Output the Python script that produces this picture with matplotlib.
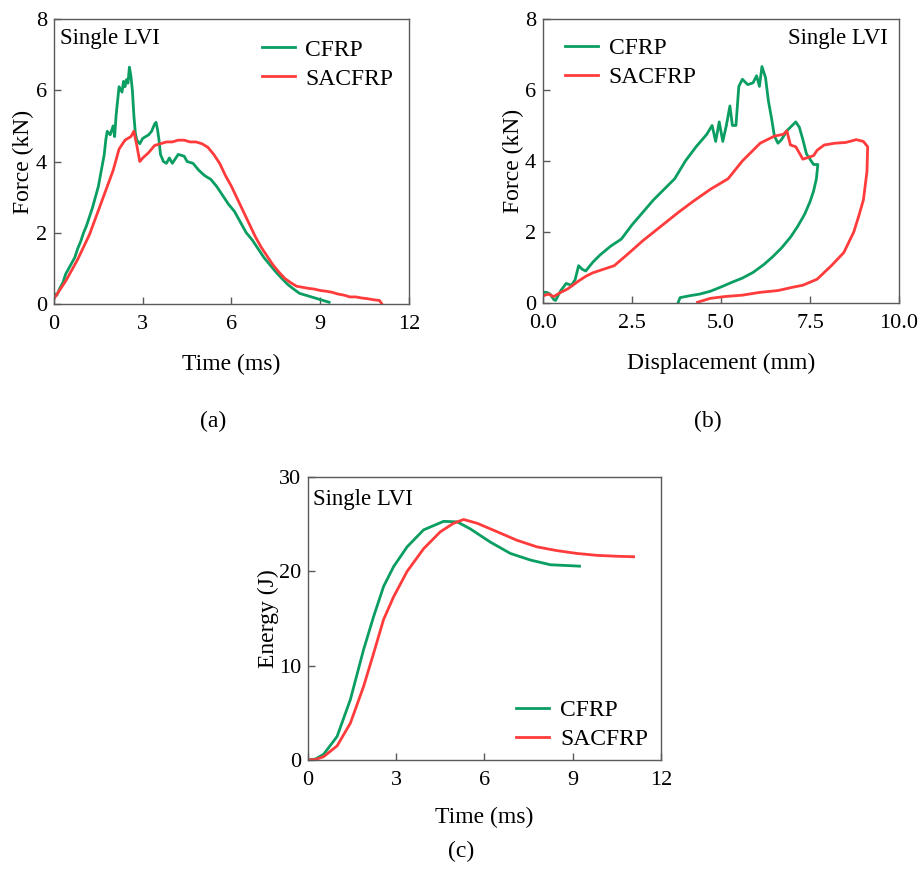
import numpy as np
import matplotlib
matplotlib.use("Agg")
import matplotlib.pyplot as plt

plt.rcParams['font.family'] = ['Liberation Serif', 'DejaVu Serif']

GREEN = '#0a9e62'
RED = '#ff3b3b'

# (a) force vs time
t_cfrp = [0, 0.1, 0.2, 0.3, 0.4, 0.5, 0.6, 0.7, 0.8, 0.9, 1.0, 1.1, 1.2, 1.3, 1.4, 1.5, 1.6, 1.7,
          1.75, 1.8, 1.9, 2.0, 2.05, 2.1, 2.15, 2.2, 2.3, 2.35, 2.4, 2.45, 2.5, 2.55, 2.6, 2.65, 2.7,
          2.75, 2.8, 2.9, 3.0, 3.1, 3.2, 3.3, 3.4, 3.45, 3.5, 3.55, 3.6, 3.7, 3.8, 3.9, 4.0, 4.2, 4.4,
          4.5, 4.7, 4.9, 5.1, 5.3, 5.5, 5.7, 5.9, 6.1, 6.3, 6.5, 6.7, 6.9, 7.1, 7.3, 7.5, 7.7, 7.9,
          8.1, 8.3, 8.5, 8.7, 8.9, 9.1, 9.3]
f_cfrp = [0.3, 0.25, 0.45, 0.6, 0.85, 1.0, 1.15, 1.3, 1.55, 1.75, 2.0, 2.2, 2.45, 2.7, 3.0, 3.3, 3.75, 4.2,
          4.6, 4.85, 4.75, 5.0, 4.7, 5.3, 5.7, 6.1, 5.95, 6.25, 6.1, 6.3, 6.2, 6.65, 6.4, 6.0, 5.3,
          4.8, 4.6, 4.5, 4.65, 4.7, 4.75, 4.85, 5.05, 5.1, 4.9, 4.6, 4.2, 4.0, 3.95, 4.1, 3.95, 4.2, 4.15,
          4.0, 3.95, 3.75, 3.6, 3.5, 3.3, 3.05, 2.8, 2.6, 2.3, 2.0, 1.8, 1.55, 1.3, 1.1, 0.9, 0.72, 0.55,
          0.42, 0.3, 0.25, 0.2, 0.15, 0.1, 0.05]
t_sac = [0, 0.2, 0.4, 0.6, 0.8, 1.0, 1.2, 1.4, 1.6, 1.8, 2.0, 2.2, 2.4, 2.6, 2.7, 2.8, 2.9, 3.0,
         3.2, 3.4, 3.6, 3.8, 4.0, 4.2, 4.4, 4.6, 4.8, 5.0, 5.2, 5.4, 5.6, 5.8, 6.0, 6.2, 6.4, 6.6,
         6.8, 7.0, 7.2, 7.4, 7.6, 7.8, 8.0, 8.2, 8.4, 8.6, 8.8, 9.0, 9.2, 9.4, 9.6, 9.8, 10.0, 10.2,
         10.4, 10.6, 10.8, 11.0, 11.07]
f_sac = [0.15, 0.4, 0.65, 0.95, 1.25, 1.6, 1.95, 2.4, 2.85, 3.3, 3.75, 4.35, 4.6, 4.7, 4.85, 4.45, 4.0, 4.1,
         4.25, 4.45, 4.5, 4.55, 4.55, 4.6, 4.6, 4.55, 4.55, 4.5, 4.4, 4.2, 3.95, 3.6, 3.3, 2.95, 2.6, 2.25,
         1.9, 1.6, 1.35, 1.1, 0.9, 0.72, 0.6, 0.5, 0.47, 0.44, 0.42, 0.38, 0.36, 0.33, 0.28, 0.25, 0.2, 0.2,
         0.17, 0.15, 0.12, 0.1, 0.02]

# (b) force vs displacement
d_cfrp = [0, 0.1, 0.2, 0.3, 0.35, 0.5, 0.65, 0.8, 0.9, 1.0, 1.1, 1.2, 1.4, 1.6, 1.9, 2.2, 2.5, 2.8, 3.1,
          3.4, 3.7, 4.0, 4.3, 4.6, 4.75, 4.85, 4.95, 5.05, 5.15, 5.25, 5.32, 5.42, 5.5, 5.6, 5.75, 5.9,
          6.0, 6.08, 6.15, 6.25, 6.33, 6.42, 6.5, 6.6, 6.7, 6.85, 7.0, 7.1, 7.2, 7.3, 7.4, 7.5, 7.6, 7.72,
          7.68, 7.6, 7.5, 7.35, 7.15, 6.95, 6.7, 6.45, 6.2, 5.9, 5.6, 5.3, 5.0, 4.7, 4.4, 4.1, 3.85, 3.8]
fd_cfrp = [0.3, 0.3, 0.25, 0.1, 0.07, 0.35, 0.55, 0.5, 0.65, 1.05, 0.95, 0.9, 1.15, 1.35, 1.6, 1.8, 2.2, 2.55, 2.9,
           3.2, 3.5, 4.0, 4.4, 4.75, 5.0, 4.55, 5.1, 4.55, 5.0, 5.55, 5.0, 5.0, 6.1, 6.3, 6.15, 6.2,
           6.4, 6.1, 6.66, 6.35, 5.7, 5.2, 4.7, 4.5, 4.6, 4.85, 5.0, 5.1, 4.95, 4.6, 4.2, 4.05, 3.9, 3.9,
           3.5, 3.15, 2.85, 2.5, 2.15, 1.85, 1.55, 1.3, 1.08, 0.86, 0.7, 0.58, 0.45, 0.33, 0.25, 0.2, 0.15, 0.02]
d_sac = [0, 0.15, 0.3, 0.5, 0.7, 1.0, 1.2, 1.4, 1.7, 2.0, 2.35, 2.8, 3.3, 3.8, 4.2, 4.7, 5.2, 5.6, 5.9,
         6.1, 6.5, 6.75, 6.85, 6.95, 7.1, 7.3, 7.45, 7.6, 7.7, 7.9, 8.2, 8.5, 8.8, 9.0, 9.12, 9.1, 9.0,
         8.87, 8.73, 8.45, 8.1, 7.7, 7.3, 7.0, 6.6, 6.1, 5.6, 5.1, 4.7, 4.34]
fd_sac = [0.2, 0.25, 0.18, 0.3, 0.4, 0.62, 0.75, 0.85, 0.95, 1.05, 1.35, 1.75, 2.15, 2.55, 2.85, 3.2, 3.5, 4.0, 4.3,
          4.5, 4.7, 4.75, 4.85, 4.45, 4.4, 4.05, 4.1, 4.15, 4.3, 4.45, 4.5, 4.52, 4.6, 4.55, 4.4, 3.7, 2.9,
          2.45, 2.0, 1.42, 1.05, 0.67, 0.5, 0.44, 0.35, 0.3, 0.22, 0.18, 0.13, 0.02]

# (c) energy vs time
te_cfrp = [0, 0.25, 0.53, 0.99, 1.44, 1.89, 2.23, 2.57, 2.91, 3.37, 3.93, 4.61, 5.07, 5.52, 6.2, 6.88,
           7.56, 8.24, 8.92, 9.23]
e_cfrp = [0, 0.1, 0.6, 2.5, 6.4, 11.7, 15.2, 18.4, 20.5, 22.6, 24.4, 25.3, 25.25, 24.5, 23.1, 21.9,
          21.2, 20.7, 20.6, 20.55]
te_sac = [0, 0.25, 0.53, 0.99, 1.44, 1.89, 2.23, 2.57, 2.91, 3.37, 3.93, 4.5, 4.95, 5.29, 5.75, 6.43,
          7.1, 7.78, 8.46, 9.14, 9.82, 10.5, 11.07]
e_sac = [0, 0.05, 0.35, 1.5, 3.9, 7.8, 11.3, 14.9, 17.3, 20.0, 22.4, 24.2, 25.1, 25.5, 25.1, 24.2,
         23.3, 22.6, 22.2, 21.9, 21.7, 21.6, 21.55]

labels = ['CFRP', 'SACFRP']

fig = plt.figure(figsize=(9.21, 8.89), dpi=100)
ax_a = fig.add_axes([0.0586, 0.658, 0.3855, 0.3206])
ax_b = fig.add_axes([0.5896, 0.6592, 0.3865, 0.3195])
ax_c = fig.add_axes([0.3344, 0.1451, 0.3833, 0.3183])

leg_kw = dict(loc='upper left', frameon=False, fontsize=17, handlelength=1.4,
              handletextpad=0.45, labelspacing=0.32, borderpad=0, borderaxespad=0)


def style(ax):
    for s in ax.spines.values():
        s.set_color('#5a5a5a')
        s.set_linewidth(1.0)
    ax.tick_params(direction='in', length=5, width=1, color='#5a5a5a',
                   labelsize=16, top=False, right=False)
    ax.tick_params(axis='x', pad=8)
    ax.tick_params(axis='y', pad=5)


ax_a.plot(t_cfrp, f_cfrp, color=GREEN, lw=2.0, label=labels[0])
ax_a.plot(t_sac, f_sac, color=RED, lw=2.0, label=labels[1])
ax_a.set_xlim(0, 12)
ax_a.set_ylim(0, 8)
ax_a.set_xticks([0, 3, 6, 9, 12])
ax_a.set_yticks([0, 2, 4, 6, 8])
ax_a.set_xlabel('Time (ms)', fontsize=17, labelpad=14)
ax_a.set_ylabel('Force (kN)', fontsize=17, labelpad=1)
ax_a.text(0.017, 0.932, 'Single LVI', transform=ax_a.transAxes, fontsize=16.5, va='center')
ax_a.legend(bbox_to_anchor=(0.585, 0.93), **leg_kw)
style(ax_a)

ax_b.plot(d_cfrp, fd_cfrp, color=GREEN, lw=2.0, label=labels[0])
ax_b.plot(d_sac, fd_sac, color=RED, lw=2.0, label=labels[1])
ax_b.set_xlim(0, 10)
ax_b.set_ylim(0, 8)
ax_b.set_xticks([0, 2.5, 5, 7.5, 10])
ax_b.set_xticklabels(['0.0', '2.5', '5.0', '7.5', '10.0'])
ax_b.set_yticks([0, 2, 4, 6, 8])
ax_b.set_xlabel('Displacement (mm)', fontsize=17, labelpad=14)
ax_b.set_ylabel('Force (kN)', fontsize=17, labelpad=1)
ax_b.text(0.969, 0.932, 'Single LVI', transform=ax_b.transAxes, fontsize=16.5, va='center', ha='right')
ax_b.legend(bbox_to_anchor=(0.062, 0.935), **leg_kw)
style(ax_b)

ax_c.plot(te_cfrp, e_cfrp, color=GREEN, lw=2.0, label=labels[0])
ax_c.plot(te_sac, e_sac, color=RED, lw=2.0, label=labels[1])
ax_c.set_xlim(0, 12)
ax_c.set_ylim(0, 30)
ax_c.set_xticks([0, 3, 6, 9, 12])
ax_c.set_yticks([0, 10, 20, 30])
ax_c.set_xlabel('Time (ms)', fontsize=17, labelpad=12)
ax_c.set_ylabel('Energy (J)', fontsize=17, labelpad=0)
ax_c.text(0.014, 0.92, 'Single LVI', transform=ax_c.transAxes, fontsize=16.5, va='center')
ax_c.legend(bbox_to_anchor=(0.59, 0.214), **leg_kw)
style(ax_c)

fig.text(213 / 921, 1 - 421 / 889, '(a)', fontsize=17, ha='center', va='center')
fig.text(708 / 921, 1 - 421 / 889, '(b)', fontsize=17, ha='center', va='center')
fig.text(461 / 921, 1 - 851 / 889, '(c)', fontsize=17, ha='center', va='center')

fig.savefig('out.png', dpi=100)
